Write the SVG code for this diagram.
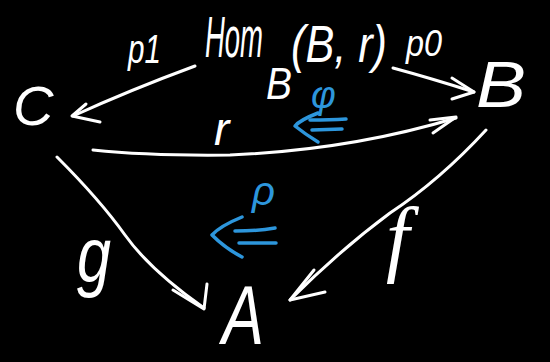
<svg xmlns="http://www.w3.org/2000/svg" width="550" height="362" viewBox="0 0 550 362">
<style>
.bg{fill:#000}
.t{font-family:"Liberation Sans","DejaVu Sans",sans-serif;font-style:italic;fill:#fff}
.s{font-family:"Liberation Serif","DejaVu Serif",serif;font-style:italic;fill:#fff}
.tb{font-family:"Liberation Sans","DejaVu Sans",sans-serif;font-style:italic;fill:#2d96dc}
.e{fill:none;stroke:#fff;stroke-width:3;stroke-linecap:round;stroke-linejoin:round}
.b{fill:none;stroke:#2d96dc;stroke-width:3.5;stroke-linecap:round;stroke-linejoin:round}
</style>
<rect class="bg" width="550" height="362"/>
<g id="node-C"><text class="t" x="13" y="125" font-size="56">C</text></g>
<g id="node-B"><text class="t" x="476" y="107" font-size="64" textLength="50" lengthAdjust="spacingAndGlyphs">B</text></g>
<g id="node-A"><text class="t" x="222" y="344" font-size="84" textLength="42" lengthAdjust="spacingAndGlyphs">A</text></g>
<g id="node-Hom">
<text class="t"><tspan x="205" y="57" font-size="58" textLength="58" lengthAdjust="spacingAndGlyphs">Hom</tspan><tspan x="266" y="99" font-size="44" textLength="26" lengthAdjust="spacingAndGlyphs">B</tspan><tspan x="291" y="62" font-size="52" textLength="96" lengthAdjust="spacingAndGlyphs">(B, r)</tspan></text>
</g>
<g id="connectors">
<path class="e" d="M195,66 Q130,90 73,116"/>
<path class="e" d="M86,104 L72,116 L100,122"/>
<path class="e" d="M393,68 Q430,78 474,92"/>
<path class="e" d="M452,78 L474,92 L452,99"/>
<path class="e" d="M93,150 Q150,156 230,155 Q350,150 456,118"/>
<path class="e" d="M430,120 L456,117 L433,133"/>
<path class="e" d="M57,157 Q100,200 125,235 Q150,270 204,308"/>
<path class="e" d="M173,290 L204,309 L207,284"/>
<path class="e" d="M486,130 Q440,180 390,213 Q340,250 290,300"/>
<path class="e" d="M314,270 L290,300 L325,292"/>
<g id="labels">
<text class="t" x="128" y="63" font-size="40" textLength="33" lengthAdjust="spacingAndGlyphs">p1</text>
<text class="t" x="406" y="56" font-size="36" textLength="36" lengthAdjust="spacingAndGlyphs">p0</text>
<text class="t" x="214" y="145" font-size="46">r</text>
<text class="t" x="77" y="282" font-size="78" textLength="34" lengthAdjust="spacingAndGlyphs">g</text>
<text class="s" x="386" y="266" font-size="84">f</text>
</g>
<g id="two-cell-phi">
<text class="tb" x="311" y="108" font-size="38">φ</text>
<path class="b" d="M318,113 Q300,120 295,126 Q305,134 318,142"/>
<path class="b" d="M310,120 Q330,120 346,119"/>
<path class="b" d="M312,130 L342,129"/>
</g>
<g id="two-cell-rho">
<text class="tb" x="252" y="205" font-size="40">ρ</text>
<path class="b" d="M242,217 Q220,226 212,235 Q225,248 242,257"/>
<path class="b" d="M235,231 Q258,231 275,228"/>
<path class="b" d="M239,243 L276,243"/>
</g>
</g>
</svg>
